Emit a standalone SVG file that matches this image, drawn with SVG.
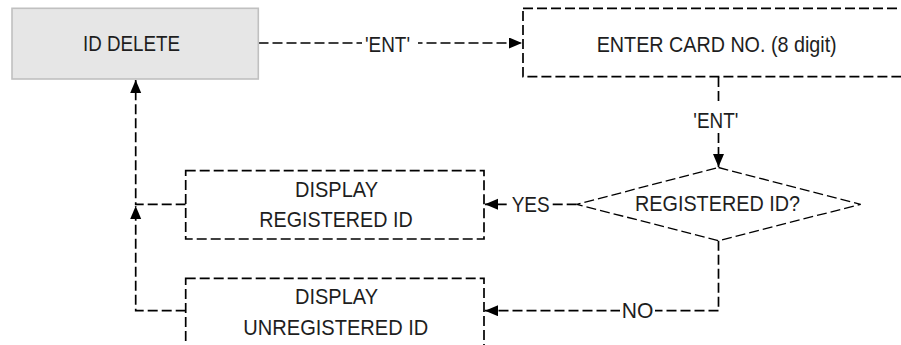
<svg xmlns="http://www.w3.org/2000/svg" width="901" height="345" viewBox="0 0 901 345">
<style>
  .t { font-family: "Liberation Sans", Arial, sans-serif; font-size: 22.5px; fill: #1e1e1e; }
  .box { fill: #ffffff; stroke: #000; stroke-width: 1.7; stroke-dasharray: 10 4; }
  .start { fill: #e6e6e6; stroke: #c0c0c0; stroke-width: 1.6; }
  .dia { fill: #ffffff; stroke: #000; stroke-width: 1.3; stroke-dasharray: 10 4; }
  .c { fill: none; stroke: #000; stroke-width: 1.7; stroke-dasharray: 10 4; }
  .bg { fill: #ffffff; }
</style>
<defs>
  <marker id="arr" markerUnits="userSpaceOnUse" markerWidth="14" markerHeight="12" refX="13" refY="5.5" orient="auto" viewBox="0 0 14 12">
    <path d="M0,0 L13,5.5 L0,11 Z" fill="#000"/>
  </marker>
</defs>
<rect width="901" height="345" fill="#ffffff"/>

<g id="connectors">
  <path class="c" d="M258.5,43 H522" marker-end="url(#arr)"/>
  <path class="c" d="M718.5,77 V167" marker-end="url(#arr)"/>
  <path class="c" d="M576.7,204.3 H485" marker-end="url(#arr)"/>
  <path class="c" d="M718.5,240.7 V310.7 H485" marker-end="url(#arr)"/>
  <path class="c" d="M185.7,204.3 H135.7 V80" marker-end="url(#arr)"/>
  <path class="c" d="M185.7,310.7 H135.7 V206" marker-end="url(#arr)"/>
</g>

<g id="labels">
  <rect class="bg" x="362" y="32" width="56" height="22"/>
  <text class="t" x="365" y="51.5" textLength="45" lengthAdjust="spacingAndGlyphs">'ENT'</text>
  <rect class="bg" x="688" y="104" width="60" height="27"/>
  <text class="t" x="693.3" y="128" textLength="45" lengthAdjust="spacingAndGlyphs">'ENT'</text>
  <rect class="bg" x="509" y="194" width="43" height="20"/>
  <text class="t" x="511.7" y="211.7" textLength="38" lengthAdjust="spacingAndGlyphs">YES</text>
  <rect class="bg" x="620" y="300" width="35" height="20"/>
  <text class="t" x="621.7" y="318.2" textLength="31.6" lengthAdjust="spacingAndGlyphs">NO</text>
</g>

<g id="id-delete">
  <rect class="start" x="12" y="8.3" width="246.3" height="70.7"/>
  <text class="t" x="83" y="50.7" textLength="97" lengthAdjust="spacingAndGlyphs">ID DELETE</text>
</g>

<g id="enter-card">
  <rect class="box" x="523" y="8.3" width="400" height="68.4"/>
  <text class="t" x="596.7" y="52" textLength="240" lengthAdjust="spacingAndGlyphs">ENTER CARD NO. (8 digit)</text>
</g>

<g id="registered-decision">
  <polygon class="dia" points="718.5,167.5 860.7,204.3 718.5,240.7 576.7,204.3"/>
  <text class="t" x="635" y="210.7" textLength="165" lengthAdjust="spacingAndGlyphs">REGISTERED ID?</text>
</g>

<g id="display-registered">
  <rect class="box" x="185.7" y="170.6" width="298.3" height="68.4"/>
  <text class="t" x="295" y="196.7" textLength="83" lengthAdjust="spacingAndGlyphs">DISPLAY</text>
  <text class="t" x="259.3" y="226.7" textLength="153.4" lengthAdjust="spacingAndGlyphs">REGISTERED ID</text>
</g>

<g id="display-unregistered">
  <rect class="box" x="185.7" y="278.3" width="298.3" height="90"/>
  <text class="t" x="295" y="304.3" textLength="83" lengthAdjust="spacingAndGlyphs">DISPLAY</text>
  <text class="t" x="243.3" y="335" textLength="185" lengthAdjust="spacingAndGlyphs">UNREGISTERED ID</text>
</g>
</svg>
